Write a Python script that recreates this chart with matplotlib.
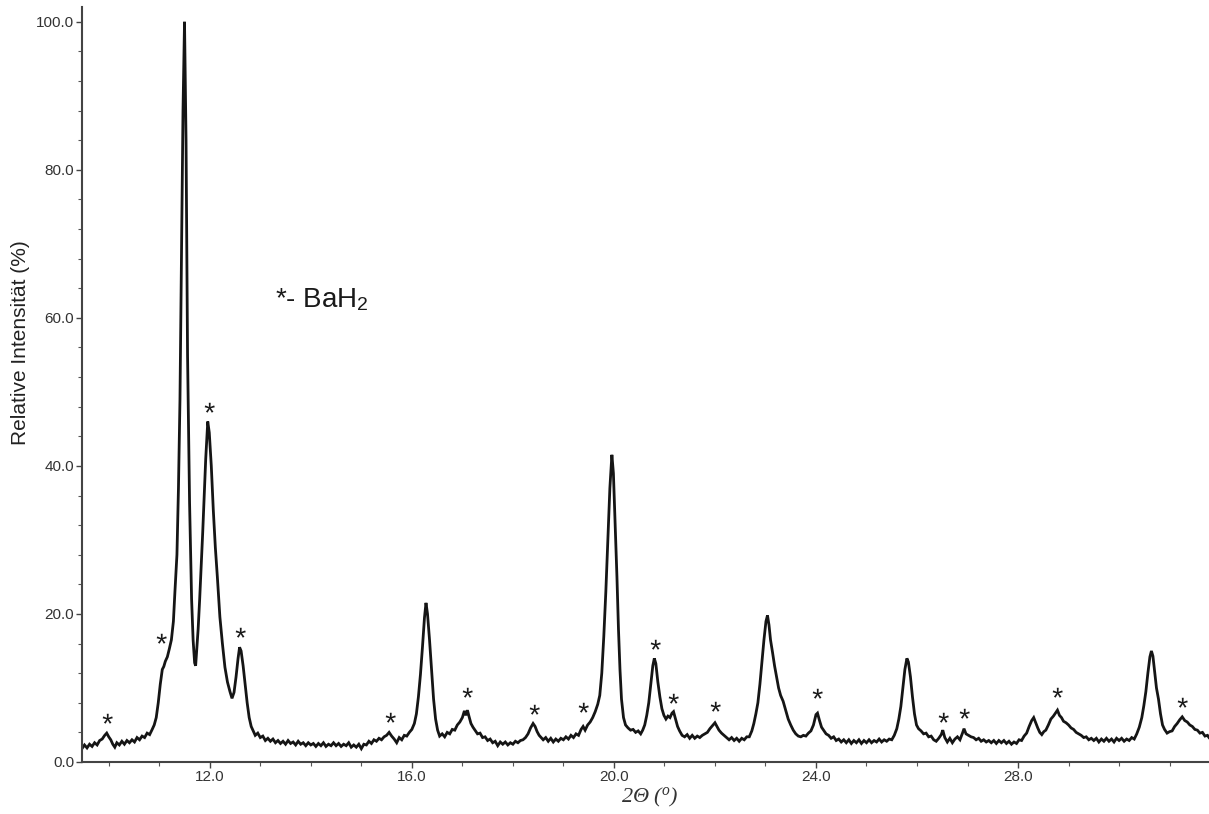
import matplotlib
matplotlib.use("Agg")
import matplotlib.pyplot as plt
from matplotlib.ticker import MultipleLocator, FormatStrFormatter
from matplotlib.textpath import TextPath
from matplotlib.font_manager import FontProperties
from matplotlib.path import Path

# Powder diffraction pattern: 2-theta (degrees) and relative intensity (%)
two_theta = [
    9.47, 9.52, 9.57, 9.62, 9.67, 9.72, 9.77, 9.82, 9.87, 9.92,
    9.96, 10.00, 10.04, 10.08, 10.12, 10.16, 10.21, 10.26, 10.31, 10.36,
    10.41, 10.46, 10.51, 10.56, 10.61, 10.66, 10.71, 10.76, 10.81, 10.86,
    10.90, 10.94, 10.98, 11.02, 11.06, 11.09, 11.12, 11.16, 11.20, 11.24,
    11.28, 11.31, 11.35, 11.38, 11.41, 11.44, 11.47, 11.50, 11.53, 11.56,
    11.60, 11.64, 11.67, 11.70, 11.72, 11.74, 11.77, 11.80, 11.83, 11.86,
    11.89, 11.92, 11.96, 11.99, 12.03, 12.07, 12.11, 12.15, 12.20, 12.25,
    12.30, 12.35, 12.40, 12.44, 12.48, 12.52, 12.56, 12.59, 12.62, 12.66,
    12.70, 12.74, 12.78, 12.82, 12.86, 12.90, 12.95, 13.00, 13.05, 13.10,
    13.15, 13.20, 13.25, 13.30, 13.35, 13.40, 13.45, 13.50, 13.55, 13.60,
    13.65, 13.70, 13.75, 13.80, 13.85, 13.90, 13.95, 14.00, 14.05, 14.10,
    14.15, 14.20, 14.25, 14.30, 14.35, 14.40, 14.45, 14.50, 14.55, 14.60,
    14.65, 14.70, 14.75, 14.80, 14.85, 14.90, 14.95, 15.00, 15.05, 15.10,
    15.15, 15.20, 15.25, 15.30, 15.35, 15.40, 15.45, 15.50, 15.55, 15.60,
    15.65, 15.70, 15.75, 15.80, 15.85, 15.90, 15.95, 16.00, 16.05,
    16.09, 16.13, 16.17, 16.21, 16.25, 16.28, 16.31, 16.35, 16.39, 16.43,
    16.47, 16.51, 16.55, 16.60, 16.65, 16.70, 16.75, 16.80, 16.85, 16.90,
    16.95, 17.00, 17.04, 17.07, 17.10, 17.13, 17.17, 17.21, 17.25, 17.30,
    17.35, 17.40, 17.45, 17.50, 17.55, 17.60, 17.65, 17.70, 17.75, 17.80,
    17.85, 17.90, 17.95, 18.00, 18.05, 18.10, 18.15, 18.20, 18.25, 18.30,
    18.35, 18.40, 18.44, 18.48, 18.52, 18.56, 18.60, 18.65, 18.70, 18.75,
    18.80, 18.85, 18.90, 18.95, 19.00, 19.05, 19.10, 19.15, 19.20, 19.25,
    19.30, 19.35, 19.39, 19.43, 19.48, 19.53, 19.58, 19.63, 19.68, 19.72,
    19.76, 19.80, 19.84, 19.88, 19.92, 19.96, 19.99, 20.02, 20.06, 20.09,
    20.12, 20.15, 20.19, 20.23, 20.28, 20.33, 20.38, 20.43, 20.48, 20.53,
    20.57, 20.61, 20.65, 20.69, 20.73, 20.77, 20.80, 20.83, 20.87, 20.91,
    20.95, 20.99, 21.03, 21.07, 21.11, 21.15, 21.18, 21.22, 21.26, 21.30,
    21.35, 21.40, 21.45, 21.50, 21.55, 21.60, 21.65, 21.70, 21.75, 21.80,
    21.85, 21.90, 21.95, 22.00, 22.04, 22.08, 22.13, 22.18, 22.23, 22.28,
    22.33, 22.38, 22.43, 22.48, 22.53, 22.58, 22.63, 22.68, 22.73, 22.77,
    22.81, 22.85, 22.89, 22.93, 22.97, 23.01, 23.04, 23.07, 23.10, 23.14,
    23.18, 23.22, 23.26, 23.30, 23.35, 23.40, 23.45, 23.50, 23.55, 23.60,
    23.65, 23.70, 23.75, 23.80, 23.85, 23.90, 23.95, 24.00, 24.03, 24.07,
    24.11, 24.15, 24.20, 24.25, 24.30, 24.35, 24.40, 24.45, 24.50, 24.55,
    24.60, 24.65, 24.70, 24.75, 24.80, 24.85, 24.90, 24.95, 25.00, 25.05,
    25.10, 25.15, 25.20, 25.25, 25.30, 25.35, 25.40, 25.45, 25.50, 25.55,
    25.60, 25.64, 25.68, 25.72, 25.76, 25.80, 25.83, 25.87, 25.91, 25.95,
    25.99, 26.03, 26.08, 26.13, 26.18, 26.23, 26.28, 26.33, 26.38, 26.43,
    26.48, 26.51, 26.55, 26.60, 26.65, 26.70, 26.75, 26.80, 26.85, 26.90,
    26.93, 26.97, 27.02, 27.07, 27.12, 27.17, 27.22, 27.27, 27.32, 27.37,
    27.42, 27.47, 27.52, 27.57, 27.62, 27.67, 27.72, 27.77, 27.82, 27.87,
    27.92, 27.97, 28.02, 28.07, 28.12, 28.17, 28.22, 28.27, 28.31, 28.35,
    28.39, 28.43, 28.47, 28.51, 28.55, 28.60, 28.65, 28.70, 28.74, 28.78,
    28.82, 28.86, 28.90, 28.95, 29.00, 29.05, 29.10, 29.15, 29.20, 29.25,
    29.30, 29.35, 29.40, 29.45, 29.50, 29.55, 29.60, 29.65, 29.70, 29.75,
    29.80, 29.85, 29.90, 29.95, 30.00, 30.05, 30.10, 30.15, 30.20, 30.25,
    30.30, 30.35, 30.40, 30.45, 30.49, 30.53, 30.57, 30.61, 30.64, 30.67,
    30.70, 30.74, 30.78, 30.82, 30.86, 30.90, 30.95, 31.00, 31.05, 31.10,
    31.15, 31.20, 31.25, 31.30, 31.35, 31.40, 31.45, 31.50, 31.55, 31.60,
    31.65, 31.70, 31.75, 31.78,
]

intensity = [
    1.8, 2.3, 1.9, 2.4, 2.1, 2.6, 2.3, 2.9, 3.1, 3.6,
    3.9, 3.4, 3.0, 2.4, 2.0, 2.6, 2.3, 2.8, 2.4, 2.9,
    2.6, 3.0, 2.7, 3.3, 3.0, 3.5, 3.3, 3.9, 3.7, 4.4,
    5.0, 6.0, 8.0, 10.5, 12.5, 12.9, 13.6, 14.2, 15.3, 16.5,
    19.0, 23.0, 28.0, 37.0, 49.0, 68.0, 88.0, 100.0, 84.0, 55.0,
    35.0, 22.0, 16.5, 13.4, 13.0, 15.0, 18.0, 22.0, 26.5, 31.0,
    36.0, 41.0, 46.0, 44.5, 40.0, 34.0, 29.0, 25.0, 19.6, 16.0,
    12.8, 10.8, 9.5, 8.6, 9.4, 11.5, 14.0, 15.5, 15.0, 13.0,
    10.5, 8.0, 6.0, 4.8, 4.2, 3.6, 3.9, 3.3, 3.5, 2.9,
    3.2, 2.8, 3.1, 2.6, 2.9, 2.5, 2.8, 2.4, 2.9, 2.5,
    2.7, 2.3, 2.8, 2.4, 2.6, 2.2, 2.6, 2.3, 2.5, 2.1,
    2.5, 2.2, 2.6, 2.1, 2.4, 2.2, 2.6, 2.2, 2.5, 2.1,
    2.4, 2.2, 2.6, 2.0, 2.3, 2.0, 2.4, 1.8, 2.4, 2.3,
    2.8, 2.5, 3.0, 2.8, 3.2, 3.0, 3.4, 3.6, 4.0, 3.5,
    3.1, 2.6, 3.3, 3.0, 3.6, 3.5, 4.0, 4.4, 5.2,
    6.5, 8.8, 11.8, 15.5, 19.5, 21.5, 20.0, 16.5, 12.5, 8.5,
    5.8, 4.3, 3.5, 3.8, 3.4, 4.0, 3.8, 4.4, 4.3, 5.0,
    5.4, 6.0, 6.9, 6.3, 7.0, 6.2, 5.2, 4.7, 4.3, 3.8,
    3.9, 3.3, 3.4, 2.9, 3.1, 2.6, 2.8, 2.2, 2.7, 2.4,
    2.7, 2.3, 2.6, 2.4, 2.8, 2.6, 2.9, 3.0, 3.3, 3.8,
    4.6, 5.2, 4.8, 4.1, 3.6, 3.3, 3.0, 3.3, 2.8, 3.2,
    2.7, 3.1, 2.8, 3.2, 3.0, 3.4, 3.1, 3.6, 3.3, 3.8,
    3.6, 4.4, 4.8, 4.3, 5.0, 5.4, 6.0, 6.8, 7.8, 9.0,
    12.0, 17.0, 23.0, 30.0, 37.0, 41.5, 39.0, 33.0, 25.0, 18.0,
    12.5, 8.5, 6.0, 5.0, 4.6, 4.3, 4.4, 4.0, 4.2, 3.8,
    4.3, 5.0, 6.3, 8.0, 10.5, 13.0, 14.0, 13.3, 10.8, 8.8,
    7.2, 6.3, 5.8, 6.2, 6.0, 6.6, 6.8, 5.8, 4.8, 4.2,
    3.6, 3.4, 3.7, 3.2, 3.6, 3.2, 3.5, 3.3, 3.6, 3.8,
    4.0, 4.5, 4.9, 5.3, 4.8, 4.3, 3.9, 3.6, 3.3, 3.0,
    3.3, 2.9, 3.2, 2.8, 3.2, 3.0, 3.4, 3.4, 4.2, 5.2,
    6.5, 8.0, 10.5, 13.5, 16.5, 19.0, 19.8, 18.5, 16.5, 14.8,
    13.0, 11.5, 10.0, 9.0, 8.2, 7.0, 5.8, 5.0, 4.3, 3.8,
    3.5, 3.4, 3.6, 3.5, 3.9, 4.2, 5.0, 6.4, 6.6, 5.6,
    4.7, 4.3, 3.8, 3.6, 3.2, 3.4, 2.9, 3.1, 2.7, 3.0,
    2.6, 3.0, 2.5, 2.9, 2.6, 3.0, 2.5, 2.9, 2.6, 3.0,
    2.6, 2.9, 2.7, 3.1, 2.7, 3.0, 2.8, 3.1, 3.0, 3.6,
    4.5, 5.8, 7.5, 10.0, 12.5, 14.0, 13.5, 11.5, 8.8, 6.5,
    5.0, 4.5, 4.2, 3.8, 3.9, 3.4, 3.5, 3.0, 2.8, 3.2,
    3.7, 4.3, 3.3, 2.7, 3.2, 2.6, 3.1, 3.4, 3.0, 3.9,
    4.5, 3.8, 3.6, 3.4, 3.3, 3.0, 3.2, 2.8, 3.0, 2.7,
    2.9, 2.6, 2.9, 2.5, 2.9, 2.6, 2.9, 2.5, 2.8, 2.4,
    2.7, 2.5, 3.0, 2.9, 3.5, 3.9, 4.8, 5.6, 6.0, 5.3,
    4.6, 4.0, 3.7, 4.1, 4.3, 5.0, 5.8, 6.2, 6.6, 7.0,
    6.3, 6.0, 5.5, 5.3, 5.0, 4.6, 4.4, 4.0, 3.8, 3.6,
    3.3, 3.4, 3.0, 3.2, 2.9, 3.2, 2.7, 3.1, 2.8, 3.2,
    2.8, 3.1, 2.7, 3.2, 2.9, 3.2, 2.8, 3.1, 2.9, 3.3,
    3.1, 3.8, 4.7, 6.0, 7.6, 9.5, 12.0, 14.2, 15.0, 14.3,
    12.5, 10.0, 8.5, 6.5, 5.0, 4.4, 3.9, 4.1, 4.2, 4.8,
    5.2, 5.7, 6.1, 5.6, 5.4, 5.0, 4.8, 4.4, 4.3, 3.9,
    4.0, 3.5, 3.6, 3.3,
]

# BaH2 reflections flagged with an asterisk (position, height of the asterisk)
bah2_theta = [9.96, 11.03, 11.98, 12.59, 15.56, 17.09, 18.42, 19.39,
              20.81, 21.17, 22.00, 24.02, 26.51, 26.93, 28.77, 31.25]
bah2_level = [5.3, 16.1, 47.3, 16.9, 5.4, 8.8, 6.5, 6.7,
              15.3, 8.0, 6.9, 8.6, 5.4, 5.9, 8.8, 7.4]

x_major = [12.0, 16.0, 20.0, 24.0, 28.0]
y_major = [0.0, 20.0, 40.0, 60.0, 80.0, 100.0]

plt.rcParams["font.family"] = ["Liberation Sans", "DejaVu Sans"]
# the only serif math on the figure is the italic axis symbol
plt.rcParams["mathtext.fontset"] = "custom"
plt.rcParams["mathtext.rm"] = "Liberation Serif:italic"
plt.rcParams["mathtext.it"] = "Liberation Serif:italic"

fig = plt.figure(figsize=(12.09, 8.14), dpi=100)
ax = fig.add_axes([0.0678, 0.0639, 0.9322, 0.9275])

ax.plot(two_theta, intensity, color="#151515", lw=2.0, solid_joinstyle="miter")

# asterisk marker built from the sans-serif glyph, centred on its extents
tp = TextPath((0, 0), "*", prop=FontProperties(family="Liberation Sans"))
verts = tp.vertices.copy()
cx = (verts[:, 0].min() + verts[:, 0].max()) / 2
cy = (verts[:, 1].min() + verts[:, 1].max()) / 2
verts[:, 0] -= cx
verts[:, 1] -= cy
star = Path(verts, tp.codes)
ax.plot(bah2_theta, bah2_level, linestyle="none", marker=star, ms=14,
        color="#1a1a1a", markeredgewidth=0)

ax.text(13.3, 62.5, "*- BaH$_\\mathregular{2}$", fontsize=20, color="#1a1a1a",
        ha="left", va="center", family="Liberation Sans")

ax.set_xlim(9.47, 31.78)
ax.set_ylim(0, 102)
ax.set_xticks(x_major)
ax.set_yticks(y_major)
ax.xaxis.set_minor_locator(MultipleLocator(1.0))
ax.yaxis.set_minor_locator(MultipleLocator(4.0))
ax.xaxis.set_major_formatter(FormatStrFormatter("%.1f"))
ax.yaxis.set_major_formatter(FormatStrFormatter("%.1f"))
ax.tick_params(which="major", direction="out", length=4, width=1.0, pad=1.5,
               colors="#444444", labelsize=11, labelcolor="#333333")
ax.tick_params(which="minor", direction="out", length=3, width=0.8,
               colors="#555555")

for side in ("top", "right"):
    ax.spines[side].set_visible(False)
for side in ("left", "bottom"):
    ax.spines[side].set_color("#444444")
    ax.spines[side].set_linewidth(1.5)

ax.set_ylabel("Relative Intensität (%)", fontsize=15, color="#222222")
ax.yaxis.set_label_coords(-0.046, 0.556)
ax.set_xlabel(r"$2Θ\ (^{o})$", fontsize=16, color="#333333")
ax.xaxis.set_label_coords(0.504, -0.032)

fig.savefig("out.png", dpi=100, facecolor="white")
